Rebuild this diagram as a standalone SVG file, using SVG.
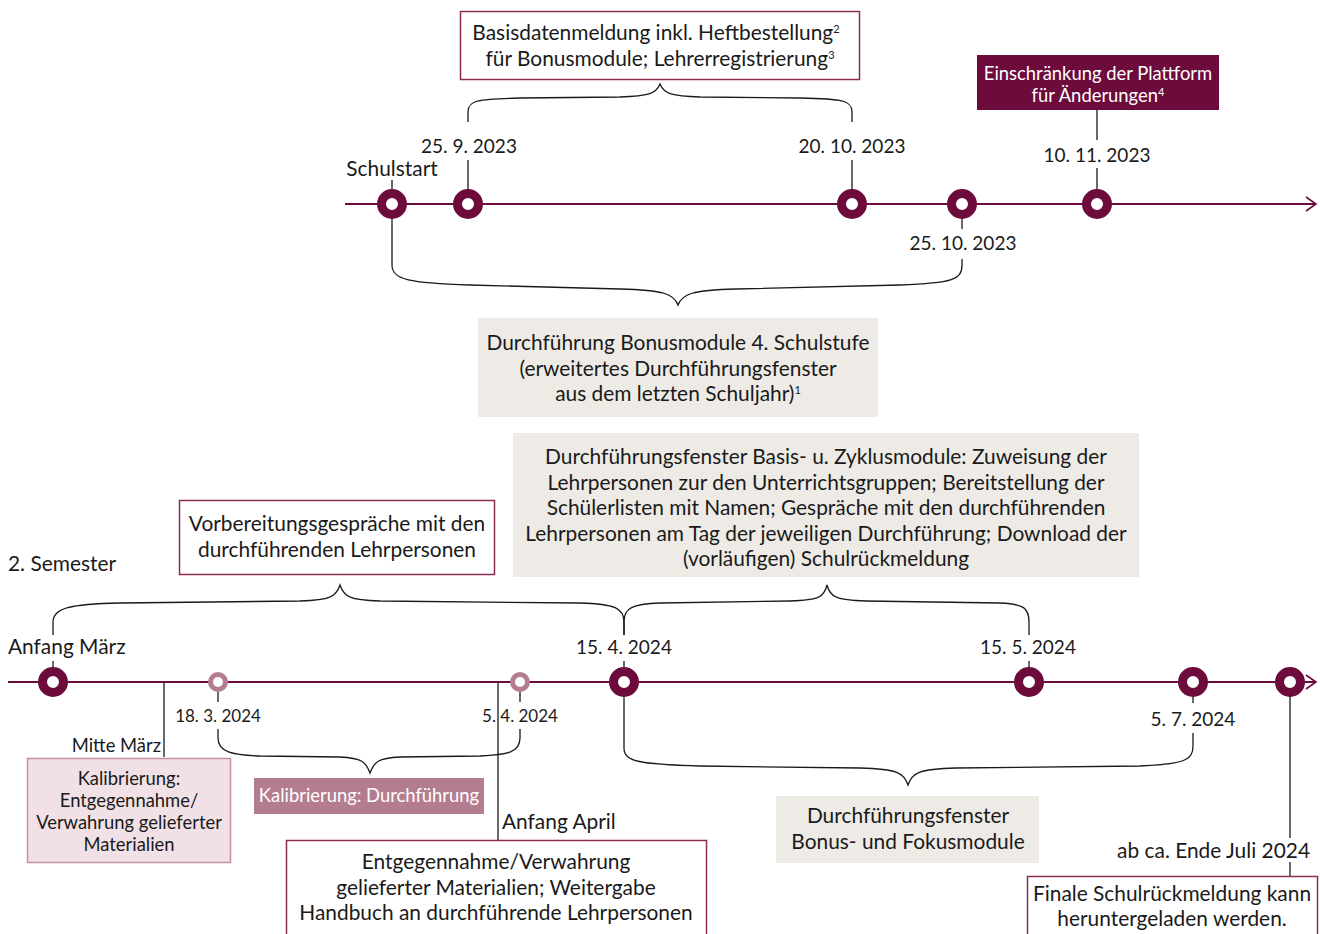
<svg xmlns="http://www.w3.org/2000/svg" width="1320" height="934" viewBox="0 0 1320 934">
<defs>
<style>
text{font-family:Lato,"Noto Sans","Liberation Sans",sans-serif;font-size:20.9px;fill:#1a1a1a}
.c{text-anchor:middle}
.r{text-anchor:end}
.w{fill:#ffffff}
.sm{font-size:18.4px}
.d{font-size:19px}
.ds{font-size:17px}
.sup{font-size:11px}
.tl{stroke:#6d0b3d;stroke-width:2;fill:none}
.ln{stroke:#1a1a1a;stroke-width:1.3;fill:none}
.dot{fill:#ffffff;stroke:#6d0b3d;stroke-width:9}
.ldot{fill:#ffffff;stroke:#b47d8f;stroke-width:5}
.bw{fill:#ffffff;stroke:#8a2c55;stroke-width:1.5}
.bg{fill:#eeebe6}
.bm{fill:#6d0b3d}
.bp{fill:#b47d8f}
.bl{fill:#f1e1e6;stroke:#c790a2;stroke-width:1.5}
</style>
<marker id="arr" markerWidth="14" markerHeight="16" refX="12" refY="8" orient="auto" markerUnits="userSpaceOnUse">
<path d="M2,1 L12,8 L2,15" fill="none" stroke="#6d0b3d" stroke-width="1.6"/>
</marker>
</defs>

<g id="connectors">
<line class="tl" x1="345" y1="204" x2="1316" y2="204" marker-end="url(#arr)"/>
<line class="tl" x1="8" y1="682" x2="1316" y2="682" marker-end="url(#arr)"/>
<line class="ln" x1="392" y1="180" x2="392" y2="190"/>
<line class="ln" x1="468" y1="160" x2="468" y2="190"/>
<line class="ln" x1="852" y1="160" x2="852" y2="190"/>
<line class="ln" x1="1097" y1="110" x2="1097" y2="140"/>
<line class="ln" x1="1097" y1="168" x2="1097" y2="190"/>
<line class="ln" x1="962" y1="218" x2="962" y2="229"/>
<path class="ln" d="M468,122 V112 C468,100 478,99 520,98 L620,97 C648,96 656,94 660,84 C664,94 672,96 700,97 L800,98 C842,99 852,100 852,112 V122"/>
<path class="ln" d="M392,218 V265 C392,280 410,283 470,285 L620,289 C664,290 674,294 678,305 C682,294 692,290 736,289 L900,285 C952,283 962,280 962,265 V259"/>
<line class="ln" x1="53" y1="661" x2="53" y2="668"/>
<line class="ln" x1="624" y1="661" x2="624" y2="668"/>
<line class="ln" x1="1029" y1="661" x2="1029" y2="668"/>
<line class="ln" x1="218" y1="692" x2="218" y2="702"/>
<line class="ln" x1="520" y1="692" x2="520" y2="702"/>
<line class="ln" x1="1193" y1="696" x2="1193" y2="703"/>
<line class="ln" x1="164" y1="682" x2="164" y2="757"/>
<line class="ln" x1="498" y1="682" x2="498" y2="840"/>
<line class="ln" x1="1290" y1="696" x2="1290" y2="838"/>
<line class="ln" x1="1290" y1="862" x2="1290" y2="876"/>
<path class="ln" d="M53,635 V622 C53,608 70,604 120,603 L300,601 C330,600 336,597 340,585 C344,597 350,600 380,601 L580,603 C615,604 624,608 624,622 V635"/>
<path class="ln" d="M624,635 V622 C624,608 632,604 660,603 L790,601 C820,600 824,597 827,585 C830,597 836,600 866,601 L1000,603 C1024,604 1029,608 1029,622 V635"/>
<path class="ln" d="M218,729 V738 C218,752 232,755 260,756 L340,757 C362,758 366,762 370,773 C374,762 378,758 400,757 L480,756 C508,755 520,752 520,738 V729"/>
<path class="ln" d="M624,697 V748 C624,762 640,764 700,766 L860,768 C898,769 904,773 908,785 C912,773 918,769 956,768 L1140,766 C1185,764 1193,760 1193,746 V733"/>
</g>

<g id="n-schulstart"><circle class="dot" cx="392" cy="204" r="10.5"/><text class="c" x="392" y="176">Schulstart</text></g>
<g id="n-2509"><circle class="dot" cx="468" cy="204" r="10.5"/><text class="c d" x="469" y="153">25. 9. 2023</text></g>
<g id="n-2010"><circle class="dot" cx="852" cy="204" r="10.5"/><text class="c d" x="852" y="153">20. 10. 2023</text></g>
<g id="n-2510"><circle class="dot" cx="962" cy="204" r="10.5"/><text class="c d" x="963" y="250">25. 10. 2023</text></g>
<g id="n-1011"><circle class="dot" cx="1097" cy="204" r="10.5"/><text class="c d" x="1097" y="162">10. 11. 2023</text></g>

<g id="box-basisdaten">
<rect class="bw" x="460.5" y="11.5" width="399" height="68"/>
<text class="c" x="656" y="40">Basisdatenmeldung inkl. Heftbestellung<tspan class="sup" dy="-7">2</tspan></text>
<text class="c" x="660" y="66">für Bonusmodule; Lehrerregistrierung<tspan class="sup" dy="-7">3</tspan></text>
</g>
<g id="box-einschraenkung">
<rect class="bm" x="977" y="55" width="242" height="55"/>
<text class="c w sm" x="1098" y="80">Einschränkung der Plattform</text>
<text class="c w sm" x="1098" y="102">für Änderungen<tspan class="sup" dy="-6">4</tspan></text>
</g>
<g id="box-bonus4">
<rect class="bg" x="478" y="318" width="400" height="99"/>
<text class="c" x="678" y="350">Durchführung Bonusmodule 4. Schulstufe</text>
<text class="c" x="678" y="376">(erweitertes Durchführungsfenster</text>
<text class="c" x="678" y="401">aus dem letzten Schuljahr)<tspan class="sup" dy="-7">1</tspan></text>
</g>

<g id="n-anfangmaerz"><circle class="dot" cx="53" cy="682" r="10.5"/><text x="8" y="654">Anfang März</text></g>
<g id="n-1803"><circle class="ldot" cx="218" cy="682" r="7.5"/><text class="c ds" x="218" y="722">18. 3. 2024</text></g>
<g id="n-0504"><circle class="ldot" cx="520" cy="682" r="7.5"/><text class="c ds" x="520" y="722">5. 4. 2024</text></g>
<g id="n-1504"><circle class="dot" cx="624" cy="682" r="10.5"/><text class="c d" x="624" y="654">15. 4. 2024</text></g>
<g id="n-1505"><circle class="dot" cx="1029" cy="682" r="10.5"/><text class="c d" x="1028" y="654">15. 5. 2024</text></g>
<g id="n-0507"><circle class="dot" cx="1193" cy="682" r="10.5"/><text class="c d" x="1193" y="726">5. 7. 2024</text></g>
<g id="n-endejuli"><circle class="dot" cx="1290" cy="682" r="10.5"/><text class="r" x="1310" y="858">ab ca. Ende Juli 2024</text></g>

<g id="label-semester"><text x="8" y="571">2. Semester</text></g>
<g id="label-mittemaerz"><text class="r sm" x="161" y="752">Mitte März</text></g>
<g id="label-anfangapril"><text x="502" y="829">Anfang April</text></g>

<g id="box-vorbereitung">
<rect class="bw" x="179.5" y="500.5" width="315" height="74"/>
<text class="c" x="337" y="531">Vorbereitungsgespräche mit den</text>
<text class="c" x="337" y="557">durchführenden Lehrpersonen</text>
</g>
<g id="box-basiszyklus">
<rect class="bg" x="513" y="433" width="626" height="144"/>
<text class="c" x="826" y="464">Durchführungsfenster Basis- u. Zyklusmodule: Zuweisung der</text>
<text class="c" x="826" y="490">Lehrpersonen zur den Unterrichtsgruppen; Bereitstellung der</text>
<text class="c" x="826" y="515">Schülerlisten mit Namen; Gespräche mit den durchführenden</text>
<text class="c" x="826" y="541">Lehrpersonen am Tag der jeweiligen Durchführung; Download der</text>
<text class="c" x="826" y="566">(vorläufigen) Schulrückmeldung</text>
</g>
<g id="box-kal1">
<rect class="bl" x="27.5" y="758.5" width="203" height="104"/>
<text class="c sm" x="129" y="785">Kalibrierung:</text>
<text class="c sm" x="129" y="807">Entgegennahme/</text>
<text class="c sm" x="129" y="829">Verwahrung gelieferter</text>
<text class="c sm" x="129" y="851">Materialien</text>
</g>
<g id="box-kal2">
<rect class="bp" x="254" y="778" width="230" height="36"/>
<text class="c w sm" x="369" y="802">Kalibrierung: Durchführung</text>
</g>
<g id="box-bonusfokus">
<rect class="bg" x="776" y="796" width="263" height="67"/>
<text class="c" x="908" y="823">Durchführungsfenster</text>
<text class="c" x="908" y="849">Bonus- und Fokusmodule</text>
</g>
<g id="box-entgegennahme">
<rect class="bw" x="286.5" y="840.5" width="420" height="100"/>
<text class="c" x="496" y="869">Entgegennahme/Verwahrung</text>
<text class="c" x="496" y="895">gelieferter Materialien; Weitergabe</text>
<text class="c" x="496" y="920">Handbuch an durchführende Lehrpersonen</text>
</g>
<g id="box-finale">
<rect class="bw" x="1027.5" y="876.5" width="290" height="64"/>
<text class="c" x="1172" y="901">Finale Schulrückmeldung kann</text>
<text class="c" x="1172" y="926">heruntergeladen werden.</text>
</g>
</svg>
